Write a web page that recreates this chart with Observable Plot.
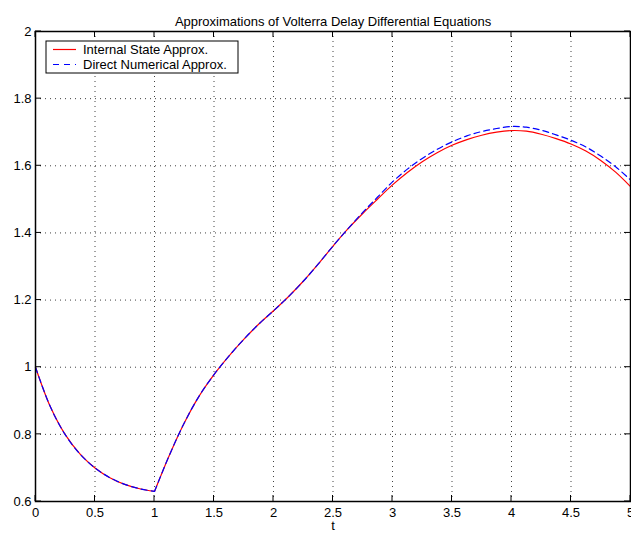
<!DOCTYPE html>
<html>
<head>
<meta charset="utf-8">
<script src="https://cdn.jsdelivr.net/npm/d3@7"></script>
<script src="https://cdn.jsdelivr.net/npm/@observablehq/plot@0.6"></script>
<style>
  body { margin: 0; background: #fff; }
  #chart { width: 631px; height: 536px; }
</style>
</head>
<body>
<div id="chart"></div>
<script>
const title = "Approximations of Volterra Delay Differential Equations";
const xLabel = "t";
const seriesNames = ["Internal State Approx.", "Direct Numerical Approx."];
const seriesColors = ["#ff0000", "#0000ff"];

const xTicks = [0, 0.5, 1, 1.5, 2, 2.5, 3, 3.5, 4, 4.5, 5];
const xTickLabels = ["0", "0.5", "1", "1.5", "2", "2.5", "3", "3.5", "4", "4.5", "5"];
const yTicks = [0.6, 0.8, 1, 1.2, 1.4, 1.6, 1.8, 2];
const yTickLabels = ["0.6", "0.8", "1", "1.2", "1.4", "1.6", "1.8", "2"];

const t = [0, 0.125, 0.25, 0.375, 0.5, 0.625, 0.75, 0.875, 1,
  1.125, 1.25, 1.375, 1.5, 1.625, 1.75, 1.875, 2,
  2.125, 2.25, 2.375, 2.5, 2.625, 2.75, 2.875, 3,
  3.125, 3.25, 3.375, 3.5, 3.625, 3.75, 3.875, 4,
  4.125, 4.25, 4.375, 4.5, 4.625, 4.75, 4.875, 5];

const internalState = [1.000, 0.882, 0.799, 0.741, 0.700, 0.671, 0.651, 0.638, 0.630,
  0.738, 0.834, 0.914, 0.978, 1.033, 1.083, 1.128, 1.168,
  1.210, 1.256, 1.307, 1.361, 1.412, 1.458, 1.501, 1.543,
  1.580, 1.612, 1.639, 1.661, 1.678, 1.691, 1.700, 1.705,
  1.703, 1.694, 1.681, 1.665, 1.644, 1.616, 1.581, 1.538];

const directNumerical = [1.000, 0.882, 0.799, 0.741, 0.700, 0.671, 0.651, 0.638, 0.630,
  0.738, 0.834, 0.914, 0.978, 1.033, 1.083, 1.128, 1.168,
  1.210, 1.256, 1.307, 1.361, 1.412, 1.461, 1.507, 1.552,
  1.590, 1.622, 1.649, 1.671, 1.689, 1.702, 1.711, 1.717,
  1.715, 1.706, 1.692, 1.676, 1.656, 1.629, 1.597, 1.558];

const rows = t.map((v, i) => ({t: v, a: internalState[i], b: directNumerical[i]}));
const kink = 1;
const font = "'Liberation Sans', Arial, Helvetica, sans-serif";

const plot = Plot.plot({
  width: 631,
  height: 536,
  marginLeft: 35,
  marginRight: 1,
  marginTop: 31,
  marginBottom: 35,
  style: {fontFamily: font, fontSize: "13px", background: "#fff", color: "#000"},
  x: {domain: [0, 5], label: null},
  y: {domain: [0.6, 2], label: null},
  marks: [
    Plot.gridX(xTicks.slice(1, -1), {stroke: "#000", strokeOpacity: 0.75, strokeDasharray: "1,4"}),
    Plot.gridY(yTicks.slice(1, -1), {stroke: "#000", strokeOpacity: 0.75, strokeDasharray: "1,4"}),
    Plot.line(rows, {x: "t", y: "a", filter: d => d.t <= kink, stroke: seriesColors[0], strokeWidth: 1.2, curve: "catmull-rom"}),
    Plot.line(rows, {x: "t", y: "a", filter: d => d.t >= kink, stroke: seriesColors[0], strokeWidth: 1.2, curve: "catmull-rom"}),
    Plot.line(rows, {x: "t", y: "b", filter: d => d.t <= kink, stroke: seriesColors[1], strokeWidth: 1.2, strokeDasharray: "6,4", curve: "catmull-rom"}),
    Plot.line(rows, {x: "t", y: "b", filter: d => d.t >= kink, stroke: seriesColors[1], strokeWidth: 1.2, strokeDasharray: "6,4", curve: "catmull-rom"}),
    Plot.axisX(xTicks, {tickSize: 0, tickPadding: 6, tickFormat: d => xTickLabels[xTicks.indexOf(d)], label: null, fontSize: 13}),
    Plot.axisY(yTicks, {tickSize: 0, tickPadding: 4, tickFormat: d => yTickLabels[yTicks.indexOf(d)], label: null, fontSize: 13}),
    Plot.frame({stroke: "#000", strokeWidth: 1.5}),
    Plot.text([title], {frameAnchor: "top", dy: -15, fontSize: 13, fill: "#000"}),
    Plot.text([xLabel], {frameAnchor: "bottom", dy: 28, fontSize: 13, fill: "#000"})
  ]
});

// Inward ticks on all four sides (MATLAB box style), positioned through Plot's scales
const sx = plot.scale("x"), sy = plot.scale("y");
const svg = d3.select(plot);
const x0 = sx.apply(0), x1 = sx.apply(5), y0 = sy.apply(0.6), y1 = sy.apply(2);
const tickLen = 6;
const gt = svg.append("g").attr("stroke", "#000").attr("stroke-width", 1);
xTicks.forEach(v => {
  const x = sx.apply(v);
  gt.append("line").attr("x1", x).attr("x2", x).attr("y1", y0).attr("y2", y0 - tickLen);
  gt.append("line").attr("x1", x).attr("x2", x).attr("y1", y1).attr("y2", y1 + tickLen);
});
yTicks.forEach(v => {
  const y = sy.apply(v);
  gt.append("line").attr("x1", x0).attr("x2", x0 + tickLen).attr("y1", y).attr("y2", y);
  gt.append("line").attr("x1", x1).attr("x2", x1 - tickLen).attr("y1", y).attr("y2", y);
});

// Legend box
const lg = svg.append("g").attr("font-family", font).attr("font-size", 13).attr("text-anchor", "start");
lg.append("rect").attr("x", 46).attr("y", 41).attr("width", 192).attr("height", 32)
  .attr("fill", "#fff").attr("stroke", "#000").attr("stroke-width", 1);
seriesNames.forEach((name, i) => {
  const cy = 49.5 + i * 15;
  lg.append("line").attr("x1", 53).attr("x2", 76).attr("y1", cy).attr("y2", cy)
    .attr("stroke", seriesColors[i]).attr("stroke-width", 1.2)
    .attr("stroke-dasharray", i === 1 ? "6,5" : null);
  lg.append("text").attr("x", 83).attr("y", cy + 4.5).attr("fill", "#000")
    .attr("text-anchor", "start").text(name);
});

document.getElementById("chart").appendChild(plot);
</script>
</body>
</html>
